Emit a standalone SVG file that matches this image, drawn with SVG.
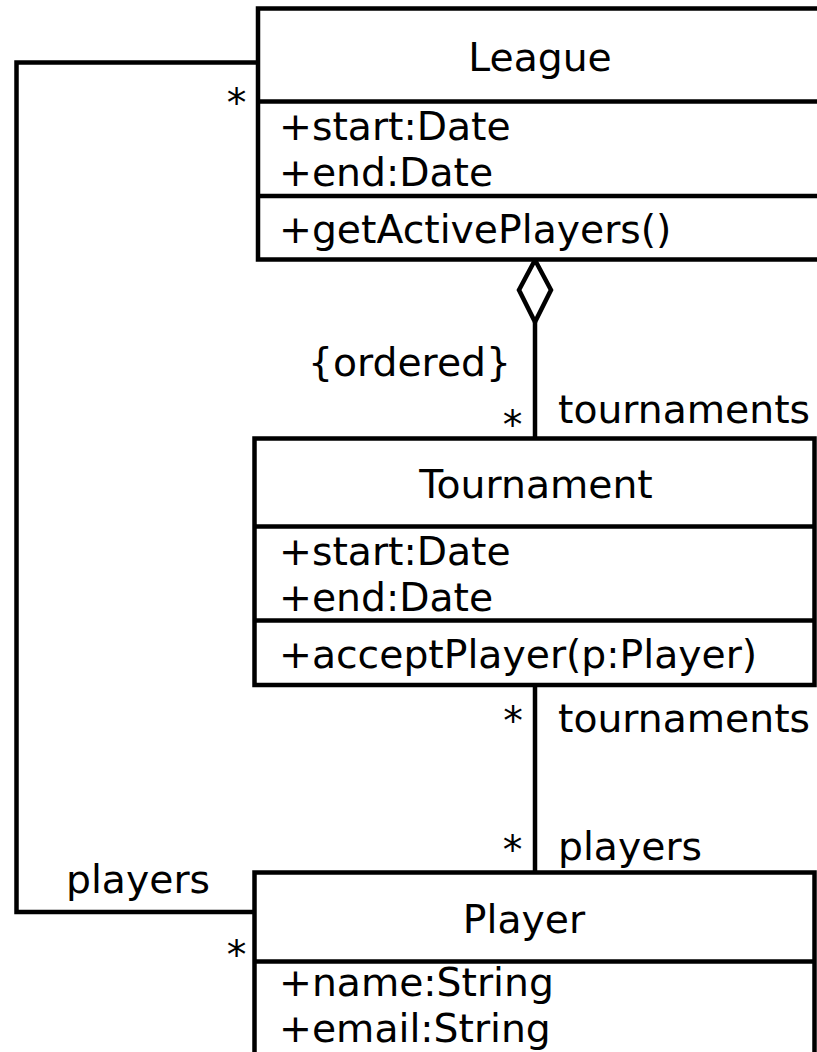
<svg xmlns="http://www.w3.org/2000/svg" width="817" height="1052" viewBox="0 0 817 1052">
<style>
.box{fill:#fff;stroke:#000;stroke-width:4.5}
.div{stroke:#000;stroke-width:4.5}
.ln{fill:none;stroke:#000;stroke-width:4.5;stroke-linejoin:miter}
text{font-family:"DejaVu Sans",sans-serif;font-size:39.3px;fill:#000}
.c{text-anchor:middle}
.e{text-anchor:end}
</style>
<rect width="817" height="1052" fill="#fff"/>
<g id="connectors">
<polyline class="ln" points="258,62.5 16.5,62.5 16.5,912 254.5,912"/>
<line class="ln" x1="535" y1="322" x2="535" y2="438.5"/>
<polygon class="ln" style="fill:#fff" points="535,260 551,290 535,322 519,290"/>
<line class="ln" x1="535" y1="685" x2="535" y2="872.5"/>
<text class="c" x="236.5" y="116">*</text>
<text class="e" x="511" y="376">{ordered}</text>
<text class="c" x="512.5" y="438">*</text>
<text x="558" y="423">tournaments</text>
<text class="c" x="513" y="734">*</text>
<text x="558" y="732">tournaments</text>
<text class="c" x="512.5" y="863">*</text>
<text x="558" y="860">players</text>
<text x="66" y="893">players</text>
<text class="c" x="236.5" y="968">*</text>
</g>
<g id="League">
<rect class="box" x="258" y="8.5" width="600" height="251"/>
<line class="div" x1="258" y1="101.5" x2="817" y2="101.5"/>
<line class="div" x1="258" y1="196" x2="817" y2="196"/>
<text class="c" x="540" y="71">League</text>
<text x="279" y="140">+start:Date</text>
<text x="279" y="186">+end:Date</text>
<text x="279" y="243">+getActivePlayers()</text>
</g>
<g id="Tournament">
<rect class="box" x="254.5" y="438.5" width="560" height="246.5"/>
<line class="div" x1="254.5" y1="526.5" x2="814.5" y2="526.5"/>
<line class="div" x1="254.5" y1="620.5" x2="814.5" y2="620.5"/>
<text class="c" x="536" y="498">Tournament</text>
<text x="279" y="565">+start:Date</text>
<text x="279" y="611">+end:Date</text>
<text x="279" y="668">+acceptPlayer(p:Player)</text>
</g>
<g id="Player">
<rect class="box" x="254.5" y="872.5" width="560" height="250"/>
<line class="div" x1="254.5" y1="961.5" x2="814.5" y2="961.5"/>
<text class="c" x="524" y="933">Player</text>
<text x="279" y="996">+name:String</text>
<text x="279" y="1042">+email:String</text>
</g>
</svg>
